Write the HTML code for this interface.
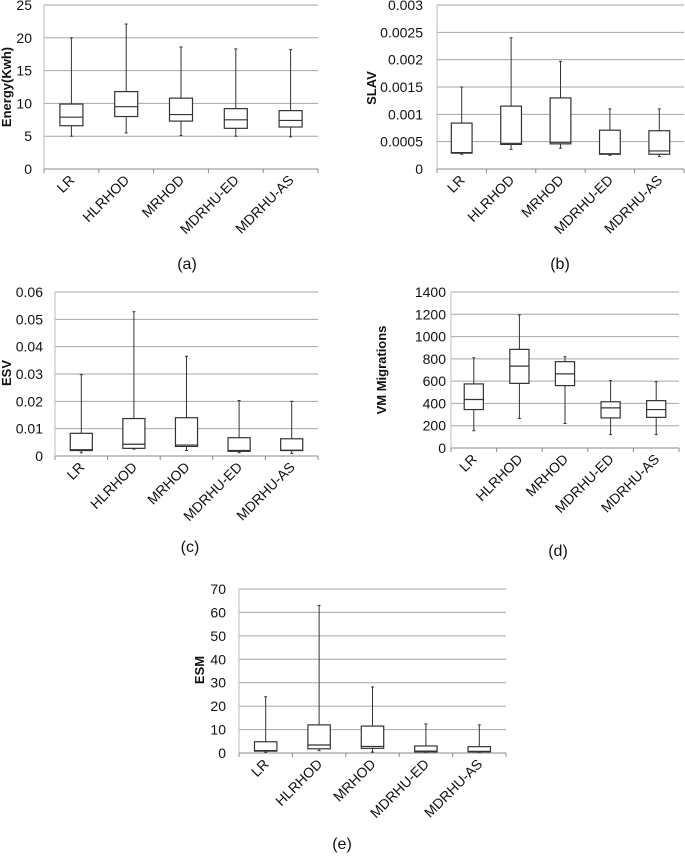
<!DOCTYPE html>
<html><head><meta charset="utf-8"><style>
html,body{margin:0;padding:0;background:#fff}
svg{display:block;font-family:"Liberation Sans",Arial,sans-serif}
</style></head><body>
<svg id="fig" width="685" height="857" viewBox="0 0 685 857" xmlns="http://www.w3.org/2000/svg"></svg>
<script>
const categories = ["LR","HLRHOD","MRHOD","MDRHU-ED","MDRHU-AS"];
// each row: [min, q1, median, q3, max]
const energyValues = [[5,6.6,7.9,9.9,20],[5.5,8,9.5,11.8,22.1],[5.1,7.3,8.3,10.8,18.6],[5,6.2,7.5,9.2,18.3],[4.9,6.4,7.4,8.9,18.2]];
const energyTicks = ["0","5","10","15","20","25"];
const slavValues = [[0.00027,0.00029,0.0003,0.00084,0.0015],[0.00036,0.00045,0.00047,0.00115,0.0024],[0.00038,0.00046,0.00049,0.0013,0.00197],[0.00025,0.00027,0.00028,0.00071,0.0011],[0.00023,0.00027,0.00033,0.0007,0.0011]];
const slavTicks = ["0","0.0005","0.001","0.0015","0.002","0.0025","0.003"];
const esvValues = [[0.0012,0.002,0.0023,0.0083,0.0298],[0.0025,0.0028,0.0043,0.0137,0.0528],[0.002,0.0035,0.004,0.014,0.0365],[0.0012,0.0017,0.002,0.0067,0.0203],[0.001,0.002,0.0021,0.0063,0.02]];
const esvTicks = ["0","0.01","0.02","0.03","0.04","0.05","0.06"];
const vmValues = [[155,345,435,575,810],[265,580,735,885,1195],[220,560,665,775,820],[120,270,360,415,605],[120,275,345,425,595]];
const vmTicks = ["0","200","400","600","800","1000","1200","1400"];
const esmValues = [[0.3,0.8,1,4.8,24],[1,1.8,3.4,12,63],[0.4,2,2.8,11.5,28.2],[0.3,0.5,0.8,3,12.4],[0.3,0.5,0.7,2.7,12]];
const esmTicks = ["0","10","20","30","40","50","60","70"];

const NS="http://www.w3.org/2000/svg";
const svg=document.getElementById('fig');
function mk(tag,attrs,parent){const e=document.createElementNS(NS,tag);for(const k in attrs)e.setAttribute(k,attrs[k]);(parent||svg).appendChild(e);return e;}

function drawChart(id,cfg,values,ticks){
  const g=mk('g',{});
  
  
  const {x0,x1,yTop,yBot,labelX,titleX,titleY,title,capX,capY,cap}=cfg;
  const maxV=parseFloat(ticks[ticks.length-1]);
  const y=v=>yBot-(v/maxV)*(yBot-yTop);
  ticks.forEach((t,i)=>{
    const v=parseFloat(t),yy=y(v);
    if(i>0){const gl=mk('line',{x1:x0,x2:x1,y1:yy,y2:yy,stroke:'#a6a6a6','stroke-width':1},g);
      
      }
    const tx=mk('text',{x:labelX,y:yy+5,'text-anchor':'end','font-size':14,fill:'#111'},g);
    tx.textContent=t;
    
    
  });
  const ax=mk('line',{x1:x0,x2:x1,y1:yBot,y2:yBot,stroke:'#888','stroke-width':1},g);
  
  
  const ay=mk('line',{x1:x0,x2:x0,y1:yTop,y2:yBot,stroke:'#bbb','stroke-width':1},g);
  
  
  const n=categories.length,cw=(x1-x0)/n;
  for(let i=0;i<=n;i++){const tk=mk('line',{x1:x0+i*cw,x2:x0+i*cw,y1:yBot,y2:yBot+4,stroke:'#888'},g);
    
    }
  const bw=cw*0.42;
  categories.forEach((c,i)=>{
    const cx=x0+cw*(i+0.5);const [mn,q1,md,q3,mx]=values[i];
    const bg=mk('g',{},g);
    
    
    mk('line',{x1:cx,x2:cx,y1:y(mx),y2:y(q3),stroke:'#333','stroke-width':1},bg);
    mk('line',{x1:cx,x2:cx,y1:y(q1),y2:y(mn),stroke:'#333','stroke-width':1},bg);
    mk('line',{x1:cx-1.5,x2:cx+1.5,y1:y(mx),y2:y(mx),stroke:'#333'},bg);
    mk('line',{x1:cx-1.5,x2:cx+1.5,y1:y(mn),y2:y(mn),stroke:'#333'},bg);
    mk('rect',{x:cx-bw/2,y:y(q3),width:bw,height:Math.max(0.5,y(q1)-y(q3)),fill:'#fff',stroke:'#333','stroke-width':1.2},bg);
    mk('line',{x1:cx-bw/2,x2:cx+bw/2,y1:y(md),y2:y(md),stroke:'#333','stroke-width':1.2},bg);
    const lx=cx+4,ly=yBot+12;
    const cl=mk('text',{x:lx,y:ly,'text-anchor':'end','font-size':14,fill:'#111',transform:`rotate(-45 ${lx} ${ly})`},g);
    cl.textContent=c;
    
    
  });
  const tt=mk('text',{x:titleX,y:titleY,'text-anchor':'middle','font-size':13,'font-weight':'bold',fill:'#111',transform:`rotate(-90 ${titleX} ${titleY})`},g);
  tt.textContent=title;
  
  
  const cp=mk('text',{x:capX,y:capY,'text-anchor':'middle','font-size':16,fill:'#111'},g);
  cp.textContent=cap;
  
  
}
drawChart('energy',{x0:44,x1:318,yTop:5,yBot:169,labelX:32,titleX:11,titleY:87,title:'Energy(Kwh)',capX:187,capY:269,cap:'(a)'},energyValues,energyTicks);
drawChart('slav',{x0:437,x1:684,yTop:5,yBot:169,labelX:423,titleX:376,titleY:88,title:'SLAV',capX:560,capY:269,cap:'(b)'},slavValues,slavTicks);
drawChart('esv',{x0:55,x1:318,yTop:292,yBot:456,labelX:43,titleX:11,titleY:373,title:'ESV',capX:190,capY:552,cap:'(c)'},esvValues,esvTicks);
drawChart('vm',{x0:451,x1:679,yTop:292,yBot:448,labelX:446,titleX:386,titleY:370,title:'VM Migrations',capX:558,capY:556,cap:'(d)'},vmValues,vmTicks);
drawChart('esm',{x0:239,x1:506,yTop:589,yBot:753,labelX:226,titleX:204,titleY:670,title:'ESM',capX:342,capY:849,cap:'(e)'},esmValues,esmTicks);
</script>
</body></html>
